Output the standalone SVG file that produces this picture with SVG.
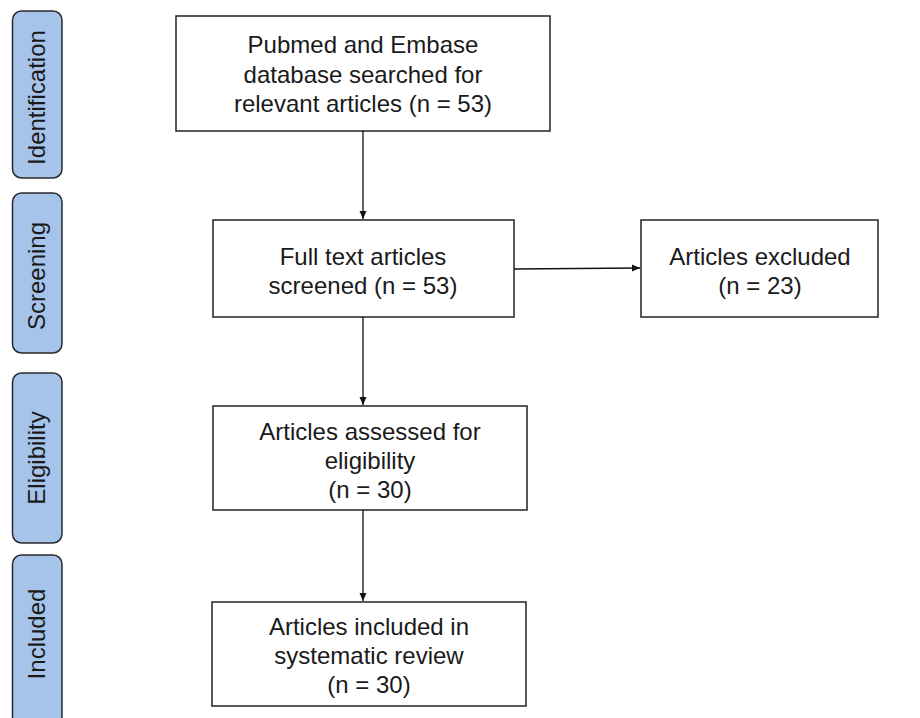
<svg xmlns="http://www.w3.org/2000/svg" width="920" height="718" viewBox="0 0 920 718">
<defs>
<marker id="ah" markerWidth="10" markerHeight="10" refX="9" refY="5" orient="auto" markerUnits="userSpaceOnUse">
<path d="M1,1.5 L9,5 L1,8.5 Z" fill="#111"/>
</marker>
<style>
.phase{fill:#a6c4e9;stroke:#2a2a2a;stroke-width:1.5}
.box{fill:#fff;stroke:#222;stroke-width:1.5}
.t{font-family:"Liberation Sans",Arial,sans-serif;font-size:24px;fill:#1a1a1a;text-anchor:middle}
.c{stroke:#111;stroke-width:1.3;fill:none;marker-end:url(#ah)}
</style>
</defs>
<rect width="920" height="718" fill="#fff"/>
<g id="phase-identification"><rect class="phase" x="12.5" y="11" width="49.5" height="167" rx="9"/><text class="t" transform="translate(44.5,97.5) rotate(-90)">Identification</text></g>
<g id="phase-screening"><rect class="phase" x="12.5" y="193" width="49.5" height="160" rx="9"/><text class="t" transform="translate(44.5,276) rotate(-90)">Screening</text></g>
<g id="phase-eligibility"><rect class="phase" x="12.5" y="373" width="49.5" height="170" rx="9"/><text class="t" transform="translate(44.5,458) rotate(-90)">Eligibility</text></g>
<g id="phase-included"><rect class="phase" x="12.5" y="555" width="49.5" height="180" rx="9"/><text class="t" transform="translate(44.5,634) rotate(-90)">Included</text></g>
<g id="n1"><rect class="box" x="176" y="16" width="374" height="115"/><text class="t" x="363" y="53">Pubmed and Embase</text><text class="t" x="363" y="83">database searched for</text><text class="t" x="363" y="112">relevant articles (n = 53)</text></g>
<g id="n2"><rect class="box" x="213" y="220" width="301" height="97"/><text class="t" x="363" y="265">Full text articles</text><text class="t" x="363" y="294">screened (n = 53)</text></g>
<g id="n3"><rect class="box" x="641" y="220" width="237" height="97"/><text class="t" x="760" y="265">Articles excluded</text><text class="t" x="760" y="294">(n = 23)</text></g>
<g id="n4"><rect class="box" x="213" y="406" width="314" height="104"/><text class="t" x="370" y="440">Articles assessed for</text><text class="t" x="370" y="469">eligibility</text><text class="t" x="370" y="498">(n = 30)</text></g>
<g id="n5"><rect class="box" x="212" y="602" width="314" height="104"/><text class="t" x="369" y="635">Articles included in</text><text class="t" x="369" y="664">systematic review</text><text class="t" x="369" y="693">(n = 30)</text></g>
<g id="connectors">
<line class="c" x1="363" y1="131" x2="363" y2="219"/>
<line class="c" x1="514" y1="269" x2="640" y2="268"/>
<line class="c" x1="363" y1="317" x2="363" y2="405"/>
<line class="c" x1="363" y1="510" x2="363" y2="601"/>
</g>
</svg>
